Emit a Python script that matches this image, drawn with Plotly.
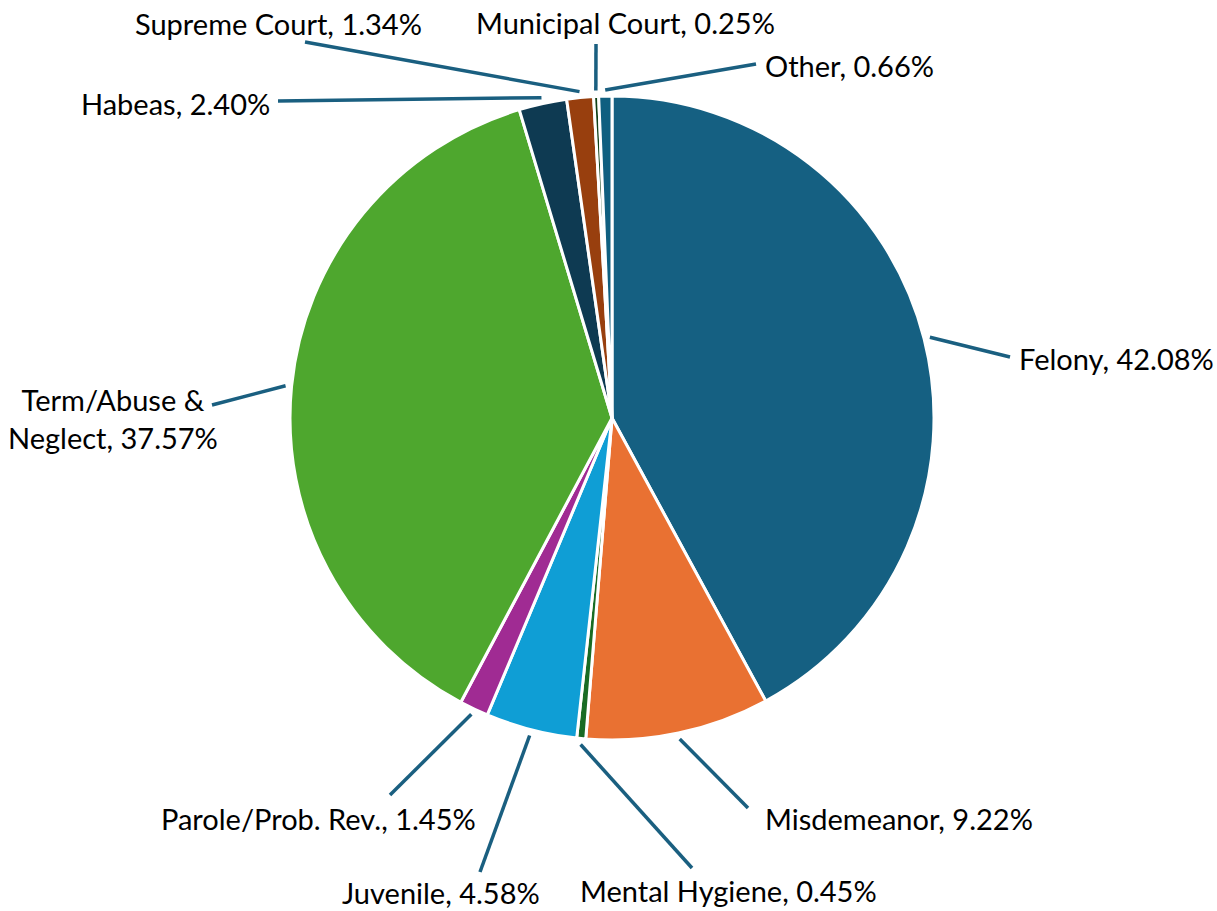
import math
import plotly.graph_objects as go

categories = ["Felony", "Misdemeanor", "Mental Hygiene", "Juvenile", "Parole/Prob. Rev.",
              "Term/Abuse & Neglect", "Habeas", "Supreme Court", "Municipal Court", "Other"]
values = [42.08, 9.22, 0.45, 4.58, 1.45, 37.57, 2.40, 1.34, 0.25, 0.66]
label_texts = ["Felony, 42.08%", "Misdemeanor, 9.22%", "Mental Hygiene, 0.45%", "Juvenile, 4.58%",
               "Parole/Prob. Rev., 1.45%", "Term/Abuse &<br>Neglect, 37.57%", "Habeas, 2.40%",
               "Supreme Court, 1.34%", "Municipal Court, 0.25%", "Other, 0.66%"]
colors = ["#156082", "#E97132", "#196B24", "#0F9ED5", "#A02B93", "#4EA72E",
          "#0E3A52", "#983F0E", "#0F4016", "#0F5F80"]

W, H = 1217, 911
CX, CY, R = 612, 418, 322

# label layout: (text x, text y, xanchor, line end x, line end y) in pixels
label_layout = [
    (1017, 358, "left", 1010, 357),
    (763, 818, "left", 748, 808),
    (728, 890, "center", 692, 868),
    (441, 892, "center", 480, 872),
    (478, 818, "right", 390, 795),
    (113, 418, "center", 212, 405),
    (272, 103, "right", 278, 101),
    (278, 24, "center", 305, 42),
    (625, 22, "center", 596, 44),
    (763, 65, "left", 756, 64),
]

fig = go.Figure(go.Pie(
    labels=categories, values=values, sort=False, direction="clockwise", rotation=0,
    marker=dict(colors=colors, line=dict(color="white", width=3)),
    textinfo="none", hoverinfo="label+percent", showlegend=False,
    domain=dict(x=[(CX - R) / W, (CX + R) / W], y=[1 - (CY + R) / H, 1 - (CY - R) / H]),
))

total = sum(values)
cum = 0.0
shapes, annotations = [], []
for v, txt, (tx, ty, xa, ex, ey) in zip(values, label_texts, label_layout):
    mid = (cum + v / 2) / total * 2 * math.pi
    cum += v
    sx = CX + (R + 6) * math.sin(mid)
    sy = CY - (R + 6) * math.cos(mid)
    shapes.append(dict(type="line", xref="paper", yref="paper",
                       x0=sx / W, y0=1 - sy / H, x1=ex / W, y1=1 - ey / H,
                       line=dict(color="#1A5F80", width=3.5)))
    annotations.append(dict(text=txt, x=tx / W, y=1 - ty / H, xref="paper", yref="paper",
                            xanchor=xa, yanchor="middle", showarrow=False, align="center",
                            font=dict(family="Lato", size=29, color="#000000")))

fig.update_layout(width=W, height=H, margin=dict(l=0, r=0, t=0, b=0),
                  paper_bgcolor="white", plot_bgcolor="white",
                  shapes=shapes, annotations=annotations)
fig.write_html("out.html", config={"displayModeBar": False},
               post_script="document.body.style.margin='0px';document.body.style.overflow='hidden';")
